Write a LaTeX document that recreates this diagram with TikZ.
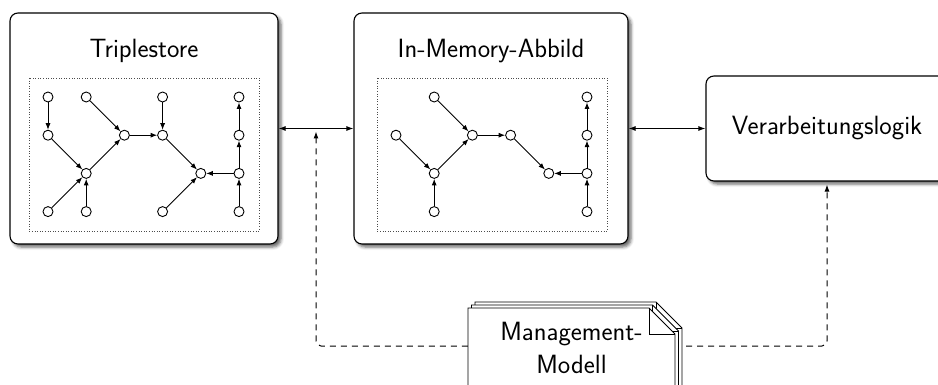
\documentclass[tikz,border=0pt]{standalone}
\usepackage{fontspec}
\usetikzlibrary{arrows.meta,shadows.blur,calc}
\begin{document}
\begin{tikzpicture}[x=1pt,y=-1pt,
  every node/.style={font=\sffamily\fontsize{26.4}{33}\selectfont},
  bigbox/.style={draw, line width=1.1pt, rounded corners=8pt, fill=white, inner sep=0pt,
    blur shadow={shadow xshift=3pt,shadow yshift=-3pt,shadow blur radius=3pt,shadow opacity=60}},
  dotbox/.style={draw=black!70, dotted, line width=0.6pt},
  gnode/.style={circle, draw, fill=white, minimum size=10pt, inner sep=0pt, line width=0.9pt},
  edge/.style={line width=0.9pt, -{Latex[length=6.5pt,width=5pt]}},
  biarrow/.style={line width=1.1pt, {Latex[length=7pt,width=5pt]}-{Latex[length=7pt,width=5pt]}},
  dasharrow/.style={line width=1pt, dash pattern=on 6pt off 5pt, rounded corners=5pt,
    shorten >=3pt, -{Latex[length=7pt,width=5pt]}},
  page/.style={draw, fill=white, line width=0.9pt, line join=miter}
]
\useasboundingbox (0,0) rectangle (938,385);

% Triplestore
\node[bigbox, minimum width=268pt, minimum height=231pt] (ts) at (144,128.5) {};
\node[anchor=base, inner sep=0pt] (tstitle) at (144,58) {Triplestore};
\draw[dotbox] (29,78) rectangle (259,231);
\foreach \c/\r in {0/0,1/0,3/0,5/0,0/1,2/1,3/1,5/1,1/2,4/2,5/2,0/3,1/3,3/3,5/3}
  \node[gnode] (t\c\r) at (48+38.2*\c, 97+38.2*\r) {};
\foreach \a/\b in {00/01,10/21,01/12,12/21,21/31,30/31,31/42,03/12,13/12,33/42,52/42,53/52,52/51,51/50}
  \draw[edge] (t\a) -- (t\b);

% In-Memory-Abbild
\node[bigbox, minimum width=274pt, minimum height=231pt] (im) at (491,128.5) {};
\node[anchor=base, inner sep=0pt] (imtitle) at (491,58) {In-Memory-Abbild};
\draw[dotbox] (377,78) rectangle (607,231);
\foreach \c/\r in {1/0,5/0,0/1,2/1,3/1,5/1,1/2,4/2,5/2,1/3,5/3}
  \node[gnode] (m\c\r) at (396+38.2*\c, 97+38.2*\r) {};
\foreach \a/\b in {10/21,01/12,12/21,21/31,13/12,31/42,52/42,53/52,52/51,51/50}
  \draw[edge] (m\a) -- (m\b);

% Verarbeitungslogik
\node[bigbox, minimum width=242pt, minimum height=105pt] (vl) at (827,128.5) {Verarbeitungslogik};

% double arrows
\draw[biarrow] (ts.east) -- (im.west);
\draw[biarrow] (im.east) -- (vl.west);

% Management-Modell
\node[minimum width=207pt, minimum height=76pt, inner sep=0pt] (mm) at (571.5,346) {};
\coordinate (j1) at ($(ts.east)!0.5!(im.west)$);
\draw[dasharrow] (mm.west) -| (j1);
\draw[dasharrow] (mm.east) -| (vl.south);

\foreach \dx/\dy in {7/-6, 3.5/-3, 0/0}{
  \draw[page] (468+\dx,395) -- (468+\dx,308+\dy) -- (649+\dx,308+\dy)
     -- (675+\dx,334+\dy) -- (675+\dx,395) -- cycle;
  \draw[page, fill=none] (649+\dx,308+\dy) -- (649+\dx,334+\dy) -- (675+\dx,334+\dy);
}
\node[align=center, inner sep=0pt] (mmtext) at (571.5,348) {Management-\\Modell};
\end{tikzpicture}
\end{document}
